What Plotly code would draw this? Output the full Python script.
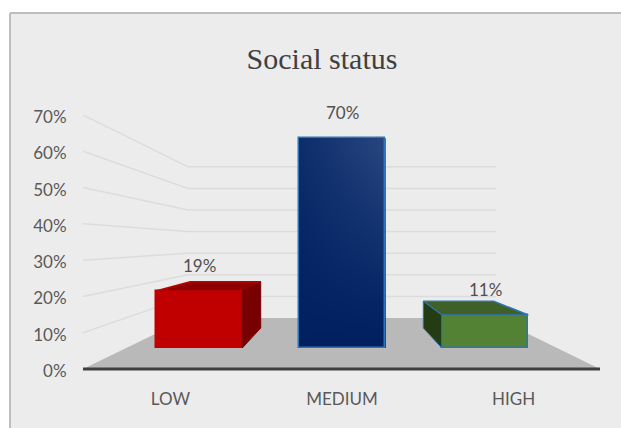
import plotly.graph_objects as go

categories = ["LOW", "MEDIUM", "HIGH"]
values = [19, 70, 11]
tick_values = [0, 10, 20, 30, 40, 50, 60, 70]
tick_labels = ["0%", "10%", "20%", "30%", "40%", "50%", "60%", "70%"]

W, H = 621, 428
FLOOR_Y, TOP_Y = 369, 115
AX_L, AX_R = 83, 600
CAT0, STEP = 199, 143
BAR_W = 0.605

front_colors = ["#c00000", "rgba(0,0,0,0)", "#548235"]
top_colors = ["#8e0000", "#0c2c6e", "#3f6028"]
side_colors = ["#780000", "#0c2c6e", "#233c14"]
edge_colors = ["#c00000", "#2e75b6", "#2e75b6"]

x_lo = (AX_L - CAT0) / STEP
x_hi = (AX_R - CAT0) / STEP
y1_per = (FLOOR_Y - TOP_Y) / 70      # px per unit on tick axis
Y1_PAD = 3                            # spare room below zero so the axis line is not clipped
BOT_Y = FLOOR_Y + Y1_PAD * y1_per
y2_per = 3.0                          # px per unit on the bars' front plane
BAR_BASE = 348
y2_lo = (BAR_BASE - BOT_Y) / y2_per
y2_hi = (BAR_BASE - TOP_Y) / y2_per

# perspective helpers
DEPTH = 0.815
LABEL_SPREAD = 1.2
def back_x(c):
    return 1 + (c - 1) * DEPTH
def back_v(v):                        # bars' back plane in y2 units
    return (20 + 2.43 * v) / y2_per
def wall_v(v):                        # rear wall in y1 units
    return (51 + 2.16 * v) / y1_per

wall_l = (188 - CAT0) / STEP
wall_r = (496 - CAT0) / STEP

fig = go.Figure()

# floor
fig.add_trace(go.Scatter(x=[x_lo, wall_l, wall_r, x_hi, x_lo],
                         y=[0, wall_v(0), wall_v(0), 0, 0],
                         fill="toself", fillcolor="#b9b9b9", mode="none",
                         hoverinfo="skip", showlegend=False))
# gridlines
for t in tick_values[1:]:
    fig.add_trace(go.Scatter(x=[x_lo, wall_l, wall_r], y=[t, wall_v(t), wall_v(t)],
                             mode="lines", line=dict(color="#dcdcdc", width=1.5),
                             hoverinfo="skip", showlegend=False))
# axis line
fig.add_trace(go.Scatter(x=[x_lo, x_hi], y=[0, 0], mode="lines",
                         line=dict(color="#404040", width=3),
                         hoverinfo="skip", showlegend=False))

# soft shading of the tall middle bar (heatmaps sit under bars in the same subplot)
n = 12
l1, r1 = 1 - BAR_W / 2, 1 + BAR_W / 2
fig.add_trace(go.Heatmap(
    x=[l1 + (r1 - l1) * k / n for k in range(n + 1)],
    y=[values[1] * k / n for k in range(n + 1)],
    z=[[(a / (n - 1)) ** 1.2 * (0.35 + 0.65 * b / (n - 1)) for b in range(n)] for a in range(n)],
    colorscale=[[0, "#002060"], [1, "#26457f"]], zmin=0, zmax=1,
    zsmooth="best", showscale=False, hoverinfo="skip", yaxis="y2"))

# bars, front plane
fig.add_trace(go.Bar(x=[0, 1, 2], y=values, width=BAR_W, yaxis="y2",
                     marker=dict(color=front_colors,
                                 line=dict(color=edge_colors, width=1.5)),
                     showlegend=False))

# bar top and side faces
for i, v in enumerate(values):
    if i != 1:
        l, r = i - BAR_W / 2, i + BAR_W / 2
        top_x = [l, back_x(l), back_x(r), r, l]
        top_y = [v, back_v(v), back_v(v), v, v]
        fig.add_trace(go.Scatter(x=top_x, y=top_y, yaxis="y2", fill="toself",
                                 fillcolor=top_colors[i], mode="lines",
                                 line=dict(color=edge_colors[i], width=1.5),
                                 hoverinfo="skip", showlegend=False))
        e = r if i == 0 else l
        side_x = [e, back_x(e), back_x(e), e, e]
        side_y = [v, back_v(v), back_v(0), 0, v]
        fig.add_trace(go.Scatter(x=side_x, y=side_y, yaxis="y2", fill="toself",
                                 fillcolor=side_colors[i], mode="lines",
                                 line=dict(color=side_colors[i] if i == 0 else edge_colors[i], width=1),
                                 hoverinfo="skip", showlegend=False))
    fig.add_annotation(x=i, y=v, xref="x", yref="y2", text=f"{v}%", showarrow=False,
                       yshift=26, font=dict(family="Lato", size=17, color="#505050"))

fig.update_layout(
    width=W, height=H, margin=dict(l=0, r=0, t=0, b=0),
    paper_bgcolor="white", plot_bgcolor="rgba(0,0,0,0)",
    autosize=False, bargap=0, showlegend=False,
    title=dict(text="Social status", x=322 / W, xanchor="center", y=1 - 58 / H, yanchor="middle",
               font=dict(family="Liberation Serif", size=30, color="#404040")),
    xaxis=dict(domain=[AX_L / W, AX_R / W], range=[x_lo, x_hi], tickmode="array", automargin=False,
               tickvals=[1 + (k - 1) * LABEL_SPREAD for k in range(len(categories))],
               ticktext=categories, showgrid=False, zeroline=False,
               ticks="outside", ticklen=4, tickcolor="rgba(0,0,0,0)",
               tickfont=dict(family="Lato", size=17, color="#595959")),
    yaxis=dict(domain=[1 - BOT_Y / H, 1 - TOP_Y / H], range=[-Y1_PAD, 70], tickmode="array", automargin=False,
               tickvals=tick_values, ticktext=tick_labels, showgrid=False, zeroline=False,
               ticks="outside", ticklen=12, tickcolor="rgba(0,0,0,0)", ticklabelshift=2,
               tickfont=dict(family="Lato", size=17, color="#595959")),
    yaxis2=dict(domain=[1 - BOT_Y / H, 1 - TOP_Y / H], range=[y2_lo, y2_hi], overlaying="y",
                side="right", visible=False, automargin=False),
    shapes=[
        dict(type="rect", xref="paper", yref="paper", x0=10 / W, x1=1, y0=0, y1=1 - 13 / H,
             fillcolor="#ececec", line=dict(width=0), layer="below"),
        dict(type="line", xref="paper", yref="paper", x0=10 / W, x1=1, y0=1 - 13 / H, y1=1 - 13 / H,
             line=dict(color="#bdbdbd", width=2), layer="below"),
        dict(type="line", xref="paper", yref="paper", x0=10 / W, x1=10 / W, y0=0, y1=1 - 13 / H,
             line=dict(color="#bdbdbd", width=2), layer="below"),
    ],
)

fig.write_html("out.html", config={"displayModeBar": False},
               post_script="document.body.style.margin='0';")
